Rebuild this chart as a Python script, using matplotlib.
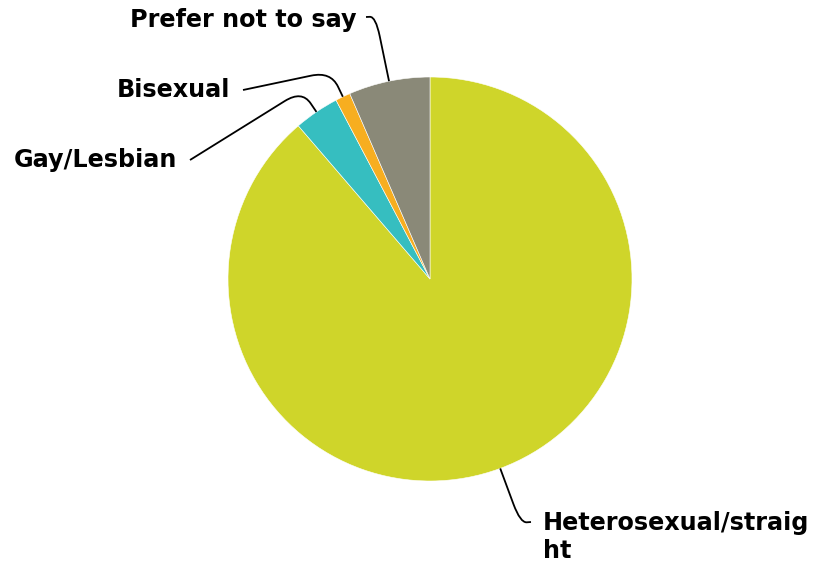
import numpy as np
import matplotlib
matplotlib.use('Agg')
import matplotlib.pyplot as plt
from matplotlib.path import Path
from matplotlib.patches import PathPatch

labels = ['Heterosexual/straig\nht', 'Gay/Lesbian', 'Bisexual', 'Prefer not to say']
values = [88.7, 3.6, 1.2, 6.5]
colors = ['#CFD52A', '#36BEC0', '#F7AE20', '#8A8978']

######################################
# layout, in pixels (y measured from the top)
W, H = 814, 565
cx, cy = 430, 279
R = 202
# how far the leader line runs out past the rim before it bends
ext = [58, 26, 28, 66]
# where each leader line ends, and where its label sits
line_end = [(531, 522), (190, 160), (243, 90), (366, 17)]
text_pos = [(543, 511), (177, 167), (230, 97), (357, 27)]
text_ha = ['left', 'right', 'right', 'right']
text_va = ['top', 'baseline', 'baseline', 'baseline']
######################################

fig = plt.figure(figsize=(W / 100, H / 100), dpi=100)
ax = fig.add_axes([0, 0, 1, 1])

wedges, _ = ax.pie(values, colors=colors, startangle=90, counterclock=False,
                   center=(cx, H - cy), radius=R,
                   wedgeprops=dict(edgecolor='white', linewidth=0.4))

# pie() sets its own limits, so put the pixel frame back afterwards
ax.set_xlim(0, W)
ax.set_ylim(0, H)
ax.set_aspect('equal')
ax.axis('off')


def leader(p0, elbow, p3, r=20):
    # straight run to the elbow, rounded corner, straight run to the label
    p0, elbow, p3 = np.array(p0), np.array(elbow), np.array(p3)
    d1 = elbow - p0
    d2 = p3 - elbow
    a = elbow - d1 / np.linalg.norm(d1) * min(r, np.linalg.norm(d1) * 0.6)
    b = elbow + d2 / np.linalg.norm(d2) * min(r, np.linalg.norm(d2) * 0.6)
    verts = [p0, a, elbow, b, p3]
    codes = [Path.MOVETO, Path.LINETO, Path.CURVE3, Path.CURVE3, Path.LINETO]
    return PathPatch(Path(verts, codes), fill=False, color='black', lw=1.3)


for i, w in enumerate(wedges):
    mid = np.deg2rad((w.theta1 + w.theta2) / 2)
    dx, dy = np.cos(mid), np.sin(mid)
    start = (cx + R * dx, H - cy + R * dy)
    elbow = (cx + (R + ext[i]) * dx, H - cy + (R + ext[i]) * dy)
    end = (line_end[i][0], H - line_end[i][1])
    ax.add_patch(leader(start, elbow, end))
    ax.text(text_pos[i][0], H - text_pos[i][1], labels[i], fontsize=17.2,
            fontweight='bold', ha=text_ha[i], va=text_va[i], color='black')

plt.savefig('out.png', dpi=100)
